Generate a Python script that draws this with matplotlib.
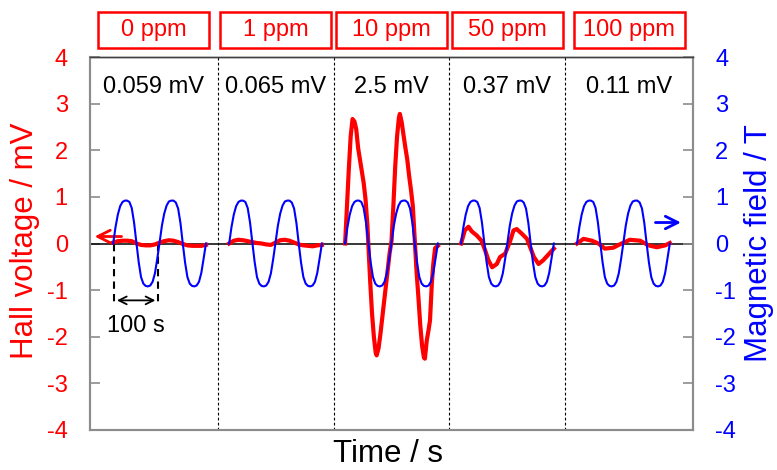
import matplotlib.pyplot as plt
from matplotlib.patches import Rectangle


plt.rcParams['font.family'] = ['Liberation Sans', 'DejaVu Sans']
plt.rcParams['axes.unicode_minus'] = False

# segment layout (s)
SEG_START = [50, 300, 550, 800, 1050]
SEG_DIVIDERS = [275, 525, 775, 1025]
SEG_CENTERS = [137.5, 400, 650, 900, 1162.5]
CONCENTRATIONS = ['0 ppm', '1 ppm', '10 ppm', '50 ppm', '100 ppm']
AMPLITUDES = ['0.059 mV', '0.065 mV', '2.5 mV', '0.37 mV', '0.11 mV']

# applied field, same in every segment (time from segment start, T)
FIELD_T = list(range(0, 205, 5))
FIELD_B = [0.0, 0.35, 0.62, 0.80, 0.89, 0.92, 0.92, 0.89, 0.76, 0.45,
           0.02, -0.40, -0.72, -0.86, -0.91, -0.92, -0.90, -0.82, -0.64, -0.33,
           0.02, 0.38, 0.64, 0.81, 0.90, 0.92, 0.92, 0.88, 0.75, 0.44,
           0.0, -0.41, -0.72, -0.86, -0.91, -0.92, -0.90, -0.82, -0.63, -0.32,
           0.0]

# hall voltage per segment (time from segment start, mV)
HALL_T = [
    list(range(0, 210, 10)),
    list(range(0, 210, 10)),
    [0, 4, 8, 12, 16, 20, 24, 28, 32, 36, 40, 44, 48, 50, 54, 58, 62, 66, 68, 72,
     76, 80, 84, 88, 92, 96, 100, 104, 108, 112, 116, 118, 122, 126, 130, 134, 138, 142, 146, 150,
     154, 158, 162, 166, 170, 172, 176, 180, 183, 187, 190, 194, 200],
    [0, 8, 16, 23, 34, 44, 52, 59, 67, 77, 84, 95, 106, 113, 120, 131, 142, 149, 157, 167,
     177, 188, 200],
    [0, 14, 32, 46, 60, 78, 96, 114, 136, 154, 172, 190, 200],
]
HALL_V = [
    [0.02, 0.05, 0.06, 0.06, 0.05, 0.0, -0.03, -0.04, -0.04, -0.02, 0.02,
     0.05, 0.07, 0.06, 0.03, -0.01, -0.04, -0.05, -0.05, -0.05, -0.03],
    [0.0, 0.06, 0.08, 0.07, 0.05, 0.03, 0.01, 0.0, -0.02, -0.03, 0.02,
     0.07, 0.08, 0.06, 0.02, -0.02, -0.04, -0.05, -0.06, -0.04, -0.03],
    [0.0, 0.8, 1.6, 2.3, 2.67, 2.62, 2.45, 2.05, 1.8, 1.55,
     1.3, 0.95, 0.4, 0.0, -0.8, -1.5, -2.0, -2.35, -2.4, -2.25,
     -1.95, -1.6, -1.25, -0.9, -0.55, -0.2, 0.05, 0.8, 1.65, 2.3,
     2.7, 2.78, 2.6, 2.32, 2.05, 1.8, 1.45, 1.15, 0.8, 0.1,
     -0.6, -1.15, -1.75, -2.2, -2.45, -2.47, -2.08, -1.85, -1.65, -0.85,
     -0.45, -0.1, -0.05],
    [0.0, 0.28, 0.36, 0.26, 0.17, 0.06, -0.15, -0.36, -0.51, -0.44, -0.29,
     -0.22, 0.06, 0.28, 0.31, 0.21, 0.1, -0.08, -0.29, -0.44, -0.36, -0.24, -0.11],
    [0.0, 0.1, 0.06, 0.0, -0.11, -0.09, 0.0, 0.08, 0.06, -0.04, -0.08, -0.04, 0.01],
]

Y_TICKS = [-4, -3, -2, -1, 0, 1, 2, 3, 4]
SPINE_GREY = '#8c8c8c'

fig = plt.figure(figsize=(7.77, 4.70), dpi=100)
ax = fig.add_axes([90 / 777, 40 / 470, 603 / 777, 373 / 470])
ax2 = ax.twinx()

for t, v, start in zip(HALL_T, HALL_V, SEG_START):
    ax.plot([start + ti for ti in t], v, color='red', lw=3, solid_joinstyle='round', zorder=3)

for start in SEG_START:
    ax2.plot([start + ti for ti in FIELD_T], FIELD_B, color='blue', lw=1.5, zorder=3)

ax.axhline(0, color='black', lw=1.1, zorder=2)
for xd in SEG_DIVIDERS:
    ax.axvline(xd, color='black', lw=0.8, linestyle=(0, (2.5, 2)), zorder=1)

ax.set_xlim(0, 1300)
ax.set_ylim(-4, 4)
ax2.set_ylim(-4, 4)
ax.set_xticks([])
ax.set_yticks(Y_TICKS)
ax2.set_yticks(Y_TICKS)
ax.tick_params(axis='y', direction='in', length=7, width=1.2, color=SPINE_GREY,
               labelsize=17, labelcolor='red', pad=16)
ax2.tick_params(axis='y', direction='in', length=7, width=1.2, color=SPINE_GREY,
                labelsize=17, labelcolor='blue', pad=16)
for a in (ax, ax2):
    for side in ('left', 'right', 'bottom'):
        a.spines[side].set_color(SPINE_GREY)
        a.spines[side].set_linewidth(1.5)
    a.spines['top'].set_color('#404040')
    a.spines['top'].set_linewidth(1.0)

# concentration boxes and amplitude notes
for xc, conc, amp in zip(SEG_CENTERS, CONCENTRATIONS, AMPLITUDES):
    ax.add_patch(Rectangle((xc - 120, 4.19), 240, 0.775, fill=False, edgecolor='red',
                           lw=1.8, clip_on=False))
    ax.text(xc, 4.58, conc, color='red', fontsize=17, ha='center', va='center', clip_on=False)
    ax.text(xc, 3.36, amp, color='black', fontsize=17, ha='center', va='center')

# axis arrows
ax.annotate('', xy=(4, 0.15), xytext=(74, 0.15),
            arrowprops=dict(arrowstyle='->,head_length=0.6,head_width=0.3', color='red',
                            lw=2, mutation_scale=15))
ax.annotate('', xy=(1280, 0.45), xytext=(1213, 0.45),
            arrowprops=dict(arrowstyle='->,head_length=0.6,head_width=0.3', color='blue',
                            lw=2, mutation_scale=15))

# 100 s scale marker
for xm in (52, 147):
    ax.plot([xm, xm], [0, -1.35], color='black', lw=1.5, linestyle=(0, (3.5, 2.5)))
ax.annotate('', xy=(52, -1.22), xytext=(147, -1.22),
            arrowprops=dict(arrowstyle='<->', color='black', lw=1.3, mutation_scale=14))
ax.text(99, -1.78, '100 s', fontsize=17, ha='center', va='center')

fig.text(25 / 777, 1 - 241 / 470, 'Hall voltage / mV', color='red', fontsize=22.5,
         rotation=90, ha='center', va='center')
fig.text(759 / 777, 1 - 243 / 470, 'Magnetic field / T', color='blue', fontsize=22.5,
         rotation=90, ha='center', va='center')
fig.text(388 / 777, 1 - 454 / 470, 'Time / s', color='black', fontsize=22.5,
         ha='center', va='center')

fig.savefig('out.png', dpi=100)
